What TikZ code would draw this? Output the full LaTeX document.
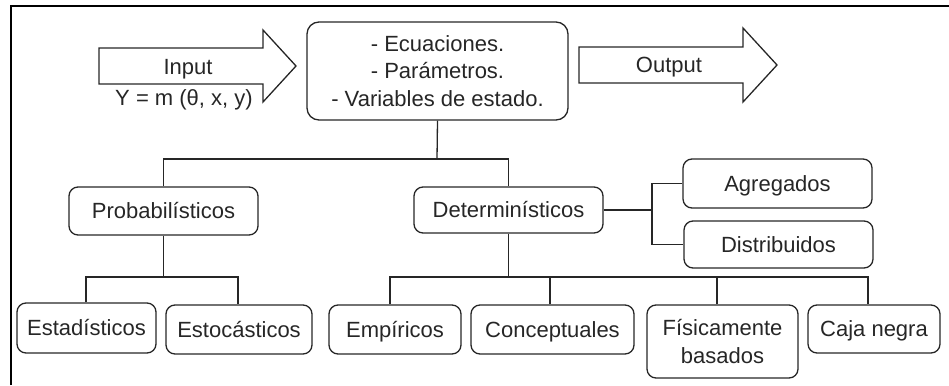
\documentclass[tikz,border=0pt]{standalone}
\usepackage{fontspec}
\setmainfont{Liberation Sans}
\begin{document}
\begin{tikzpicture}[x=1pt,y=-1pt,
  box/.style={draw=black!85,line width=1.3pt,rounded corners=9pt,inner sep=0pt,align=center,
    font=\fontsize{22}{27.5}\selectfont,text=black!85},
  one/.style={text height=15.75pt,text depth=0pt},
  lbl/.style={inner sep=0pt,font=\fontsize{22}{27.5}\selectfont,text=black!85,text height=15.75pt,text depth=0pt},
  conn/.style={draw=black!85,line width=1.3pt},
  bigarrow/.style={draw=black!85,line width=1.3pt,line join=miter}]
\useasboundingbox (0,0) rectangle (949,385);
% frame
\draw[line width=2.5pt] (11,385) -- (11,6) -- (949,6);
% arrows
\draw[bigarrow] (99,48) -- (263,48) -- (263,30) -- (296,66) -- (263,102) -- (263,84) -- (99,84) -- cycle;
\node[lbl] (in) at (188,67) {Input};
\node[lbl] (eq) at (184,98) {Y = m (θ, x, y)};
\draw[bigarrow] (579,47) -- (743,47) -- (743,28) -- (777,65) -- (743,102) -- (743,83) -- (579,83) -- cycle;
\node[lbl] (out) at (669,65) {Output};
% nodes
\node[box,minimum width=261pt,minimum height=98pt,rounded corners=12pt] (main) at (437.5,71)
  {- Ecuaciones.\\- Parámetros.\\- Variables de estado.};
\node[box,one,minimum width=189pt,minimum height=48pt] (prob) at (163.5,211) {Probabilísticos};
\node[box,one,minimum width=189pt,minimum height=46pt] (det) at (508.5,210) {Determinísticos};
\node[box,one,minimum width=189pt,minimum height=49pt] (agr) at (777.5,183.5) {Agregados};
\node[box,one,minimum width=189pt,minimum height=47pt] (dis) at (778.5,244.5) {Distribuidos};
\node[box,one,minimum width=139pt,minimum height=50pt] (est) at (86.5,328) {Estadísticos};
\node[box,one,minimum width=146pt,minimum height=49pt] (sto) at (239,329.5) {Estocásticos};
\node[box,one,minimum width=132pt,minimum height=49pt] (emp) at (395,329.5) {Empíricos};
\node[box,one,minimum width=163pt,minimum height=49pt] (con) at (552.5,329.5) {Conceptuales};
\node[box,minimum width=151pt,minimum height=73pt] (fis) at (722.5,341.5) {Físicamente\\basados};
\node[box,one,minimum width=132pt,minimum height=48pt] (caj) at (874,329) {Caja negra};
% connectors
\coordinate (mbus) at (437,159);
\draw[conn] (main.south) -- (mbus);
\draw[conn] (prob.north) |- (mbus) -| (det.north);
\coordinate (pbus) at (163.5,277);
\draw[conn] (prob.south) -- (pbus);
\draw[conn] ([xshift=-0.5pt]est.north) |- (pbus) -| ([xshift=-1pt]sto.north);
\coordinate (dbus) at (508.5,277);
\draw[conn] (det.south) -- (dbus);
\draw[conn] ([xshift=-5pt]emp.north) |- (dbus) -| ([xshift=-6pt]caj.north);
\draw[conn] ([xshift=-2.5pt]con.north) -- ([xshift=-2.5pt]con.north |- dbus);
\draw[conn] ([xshift=-5.5pt]fis.north) -- ([xshift=-5.5pt]fis.north |- dbus);
\coordinate (sbus) at (652,210);
\draw[conn] (det.east) -- (sbus);
\draw[conn] (agr.west) -| (sbus) |- (dis.west);
\end{tikzpicture}
\end{document}
